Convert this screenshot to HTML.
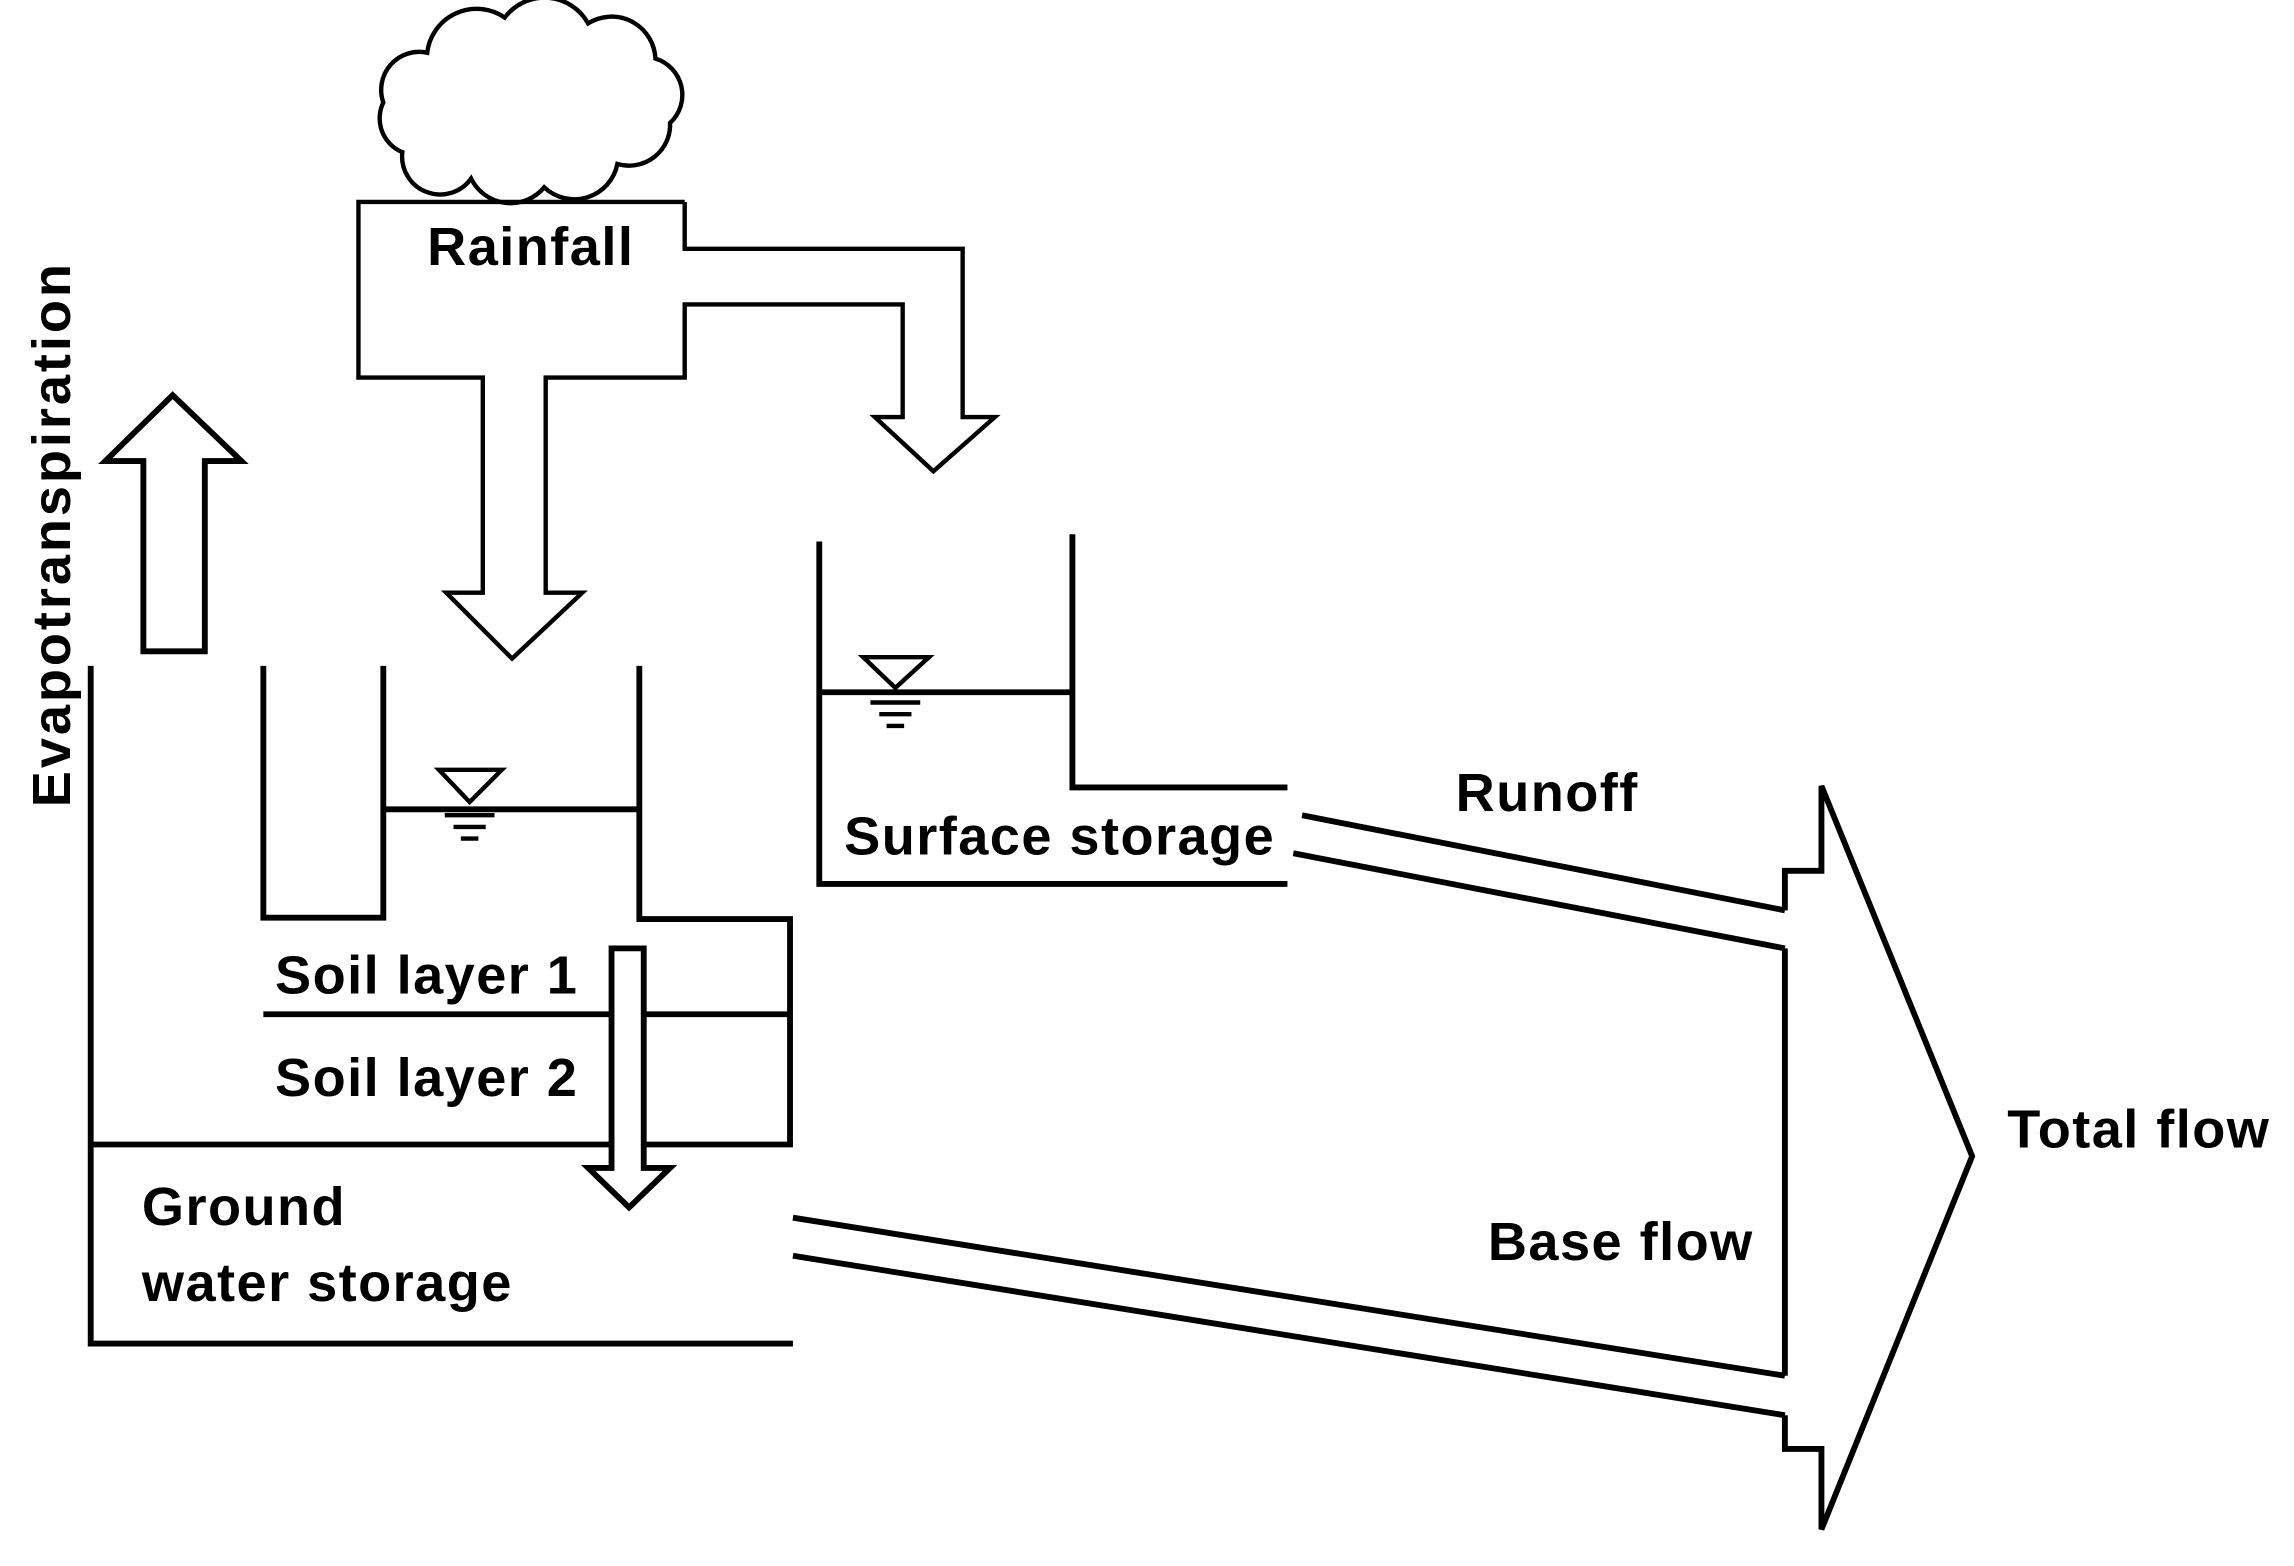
<!DOCTYPE html>
<html><head><meta charset="utf-8"><style>
html,body{margin:0;padding:0;background:#fff;}
svg{display:block;}
text{font-family:"Liberation Sans",sans-serif;font-weight:bold;font-size:37px;letter-spacing:1px;fill:#000;}
</style></head><body>
<svg width="2294" height="1566" viewBox="0 0 1568 1070" preserveAspectRatio="none" xmlns="http://www.w3.org/2000/svg">
<g fill="none" stroke="#000" stroke-width="4" stroke-linejoin="miter">
<path d="M275,104 A25,25 0 0 1 262,70 A26,26 0 0 1 292,36 A34,34 0 0 1 345,12 A34,34 0 0 1 402,16 A30,30 0 0 1 448,40 A26,26 0 0 1 458,84 A28,28 0 0 1 422,112 A30,30 0 0 1 372,128 A30,30 0 0 1 322,122 A26,26 0 0 1 275,104 Z" stroke-width="3"/>
<path d="M468,138 L245,138 L245,258 L330,258 L330,405 L305,405 L350,450 L398,405 L373,405 L373,258 L468,258 L468,208 L617,208 L617,285 L598,285 L638,322 L680,285 L658,285 L658,170 L468,170 L468,138" stroke-width="3"/>
<path d="M98,445 L98,315 L72,315 L118,270 L165,315 L140,315 L140,445 Z"/>
<path d="M62,455 L62,918 L542,918"/>
<path d="M62,782 L542,782"/>
<path d="M180,455 L180,627 L262,627 L262,455"/>
<path d="M262,553 L437,553"/>
<path d="M437,455 L437,628 L540,628 L540,782"/>
<path d="M180,693 L540,693"/>
<path d="M418,648 L440,648 L440,798 L458,798 L430,825 L402,798 L418,798 Z" fill="#fff"/>
<path d="M300,526 L343,526 L321,548 Z" stroke-width="3"/>
<path d="M304,557 L338,557 M310,565 L332,565 M315,573 L327,573" stroke-width="3"/>
<path d="M560,370 L560,604 L880,604"/>
<path d="M733,365 L733,538 L880,538"/>
<path d="M560,473 L733,473"/>
<path d="M590,449 L635,449 L612,470 Z" stroke-width="3"/>
<path d="M595,480 L629,480 M601,488 L623,488 M606,496 L618,496" stroke-width="3"/>
<path d="M890,557 L1220,622"/>
<path d="M884,583 L1220,648"/>
<path d="M542,832 L1220,940"/>
<path d="M542,858 L1220,967"/>
<path d="M1220,648 L1220,940"/>
<path d="M1220,622 L1220,595 L1245,595 L1245,537 L1348,790 L1245,1045 L1245,990 L1220,990 L1220,967"/>
</g>
<text x="292" y="181">Rainfall</text>
<text x="577" y="584">Surface storage</text>
<text x="995" y="554">Runoff</text>
<text x="188" y="679">Soil layer 1</text>
<text x="188" y="749">Soil layer 2</text>
<text x="97" y="837">Ground</text>
<text x="97" y="889">water storage</text>
<text x="1017" y="861">Base flow</text>
<text x="1372" y="784">Total flow</text>
<text transform="translate(48,365) rotate(-90)" text-anchor="middle" style="letter-spacing:2px">Evapotranspiration</text>
</svg>
</body></html>
